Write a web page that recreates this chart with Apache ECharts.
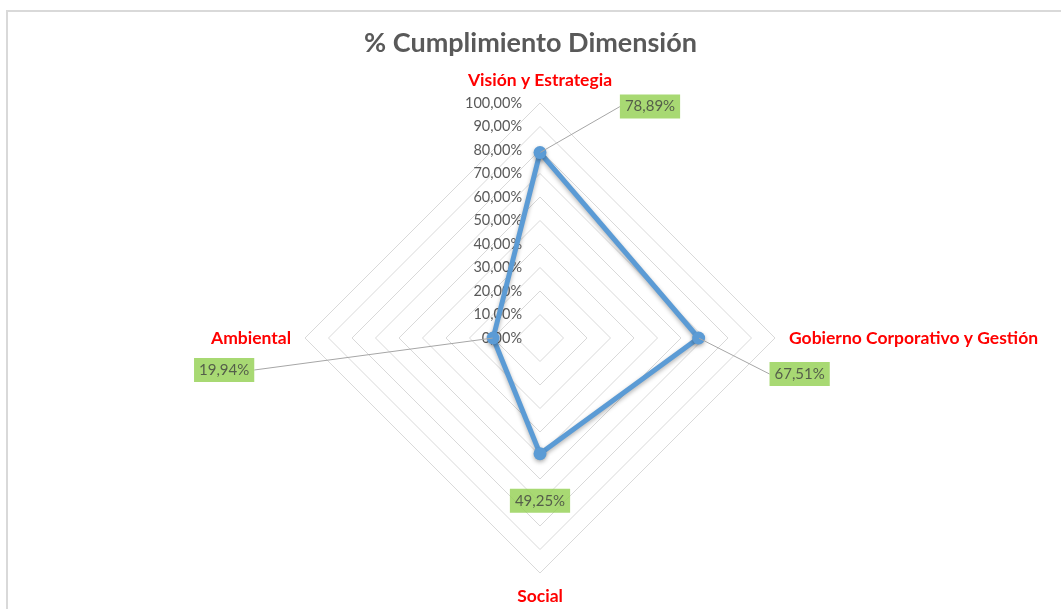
<!DOCTYPE html>
<html>
<head>
<meta charset="utf-8">
<script src="https://cdn.jsdelivr.net/npm/echarts@6/dist/echarts.min.js"></script>
<style>
  body { margin: 0; background: #fff; }
  #frame { position: absolute; left: 6px; top: 10px; width: 1100px; height: 700px; border: 2px solid #d9d9d9; }
  #main { position: absolute; left: 0; top: 0; width: 1061px; height: 609px; }
</style>
</head>
<body>
<div id="frame"></div>
<div id="main"></div>
<script>
// dimensions, clockwise from top
var dimensions = ['Visión y Estrategia', 'Gobierno Corporativo y Gestión', 'Social', 'Ambiental'];
var values = [78.89, 67.51, 49.25, 19.94];
// label box offsets from each point (px)
var labelOffsets = [[110, -46], [101, 36], [0, 47], [-269, 32]];

var fmt = function (v) { return v.toFixed(2).replace('.', ',') + '%'; };

// radar places indicators counter-clockwise, so reorder
var radarOrder = [0, 3, 2, 1];

var myChart = echarts.init(document.getElementById('main'));

var option = {
    title: {
        text: '% Cumplimiento Dimensión',
        left: 'center',
        top: 25,
        textStyle: { fontFamily: 'Lato', fontSize: 27, fontWeight: 'bold', color: '#595959' }
    },
    radar: {
        center: [540, 338],
        radius: 235,
        startAngle: 90,
        splitNumber: 10,
        shape: 'polygon',
        axisName: { color: '#ff0000', fontFamily: 'Lato', fontSize: 17.5, fontWeight: 'bold' },
        nameGap: 14,
        axisLine: { show: false },
        axisTick: { show: false },
        splitArea: { show: false },
        splitLine: { lineStyle: { color: '#d9d9d9', width: 1 } },
        axisLabel: { show: false },
        indicator: radarOrder.map(function (i, k) {
            var ind = { name: dimensions[i], min: 0, max: 100 };
            if (k === 0) {
                ind.axisLabel = { show: true, color: '#595959', fontFamily: 'Lato', fontSize: 14.5, margin: 18, formatter: fmt };
            }
            return ind;
        })
    },
    polar: { center: [540, 338], radius: 235 },
    angleAxis: {
        type: 'category', data: dimensions, startAngle: 90, clockwise: true, boundaryGap: false,
        axisLine: { show: false }, axisTick: { show: false }, axisLabel: { show: false }, splitLine: { show: false }
    },
    radiusAxis: {
        min: 0, max: 100,
        axisLine: { show: false }, axisTick: { show: false }, axisLabel: { show: false }, splitLine: { show: false }
    },
    series: [
        {
            type: 'radar',
            symbol: 'circle',
            symbolSize: 13,
            lineStyle: { color: '#5b9bd5', width: 5, shadowBlur: 4, shadowColor: 'rgba(0,0,0,0.3)', shadowOffsetY: 2 },
            itemStyle: { color: '#5b9bd5', shadowBlur: 4, shadowColor: 'rgba(0,0,0,0.3)', shadowOffsetY: 2 },
            data: [{ value: radarOrder.map(function (i) { return values[i]; }) }]
        },
        {
            type: 'scatter',
            coordinateSystem: 'polar',
            symbolSize: 1,
            itemStyle: { color: 'rgba(0,0,0,0)' },
            z: 5,
            data: values.map(function (v, i) {
                return { value: v, labelLine: { show: i !== 2 } };
            }),
            label: {
                show: true,
                position: 'inside',
                formatter: function (p) { return fmt(p.value); },
                backgroundColor: '#92d050',
                padding: [5, 5, 4, 5],
                color: '#404040',
                fontFamily: 'Lato',
                fontSize: 15
            },
            labelLine: { show: true, lineStyle: { color: '#a6a6a6', width: 1 } },
            labelLayout: function (p) {
                return { dx: labelOffsets[p.dataIndex][0], dy: labelOffsets[p.dataIndex][1] };
            }
        }
    ]
};
myChart.setOption(option);
</script>
</body>
</html>
